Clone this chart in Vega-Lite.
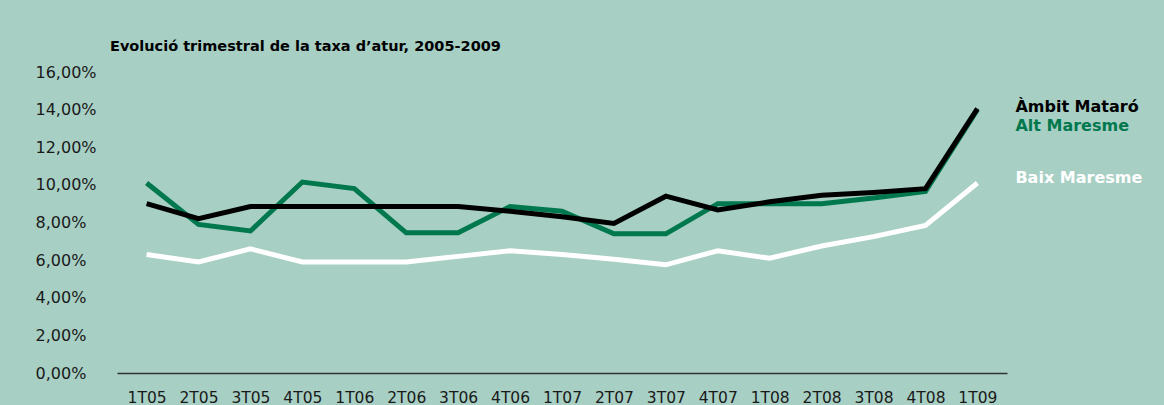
{
  "$schema": "https://vega.github.io/schema/vega-lite/v6.json",
  "autosize": {"type": "none"},
  "padding": {"left": 117, "top": 72, "right": 157, "bottom": 32},
  "width": 890,
  "height": 301,
  "background": "#A7CFC4",
  "config": {
    "view": {"stroke": null},
    "font": "DejaVu Sans"
  },
  "title": {
    "text": "Evolució trimestral de la taxa d’atur, 2005-2009",
    "anchor": "start",
    "frame": "group",
    "dx": -7,
    "offset": 10,
    "font": "DejaVu Sans",
    "fontSize": 14.5,
    "fontWeight": "bold",
    "color": "#000000"
  },
  "datasets": {
    "taxa": [
      {"t": "1T05", "serie": "Baix Maresme", "v": 6.3},
      {"t": "2T05", "serie": "Baix Maresme", "v": 5.9},
      {"t": "3T05", "serie": "Baix Maresme", "v": 6.6},
      {"t": "4T05", "serie": "Baix Maresme", "v": 5.9},
      {"t": "1T06", "serie": "Baix Maresme", "v": 5.9},
      {"t": "2T06", "serie": "Baix Maresme", "v": 5.9},
      {"t": "3T06", "serie": "Baix Maresme", "v": 6.2},
      {"t": "4T06", "serie": "Baix Maresme", "v": 6.5},
      {"t": "1T07", "serie": "Baix Maresme", "v": 6.3},
      {"t": "2T07", "serie": "Baix Maresme", "v": 6.05},
      {"t": "3T07", "serie": "Baix Maresme", "v": 5.75},
      {"t": "4T07", "serie": "Baix Maresme", "v": 6.5},
      {"t": "1T08", "serie": "Baix Maresme", "v": 6.1},
      {"t": "2T08", "serie": "Baix Maresme", "v": 6.75},
      {"t": "3T08", "serie": "Baix Maresme", "v": 7.25},
      {"t": "4T08", "serie": "Baix Maresme", "v": 7.85},
      {"t": "1T09", "serie": "Baix Maresme", "v": 10.1},
      {"t": "1T05", "serie": "Alt Maresme", "v": 10.1},
      {"t": "2T05", "serie": "Alt Maresme", "v": 7.9},
      {"t": "3T05", "serie": "Alt Maresme", "v": 7.55},
      {"t": "4T05", "serie": "Alt Maresme", "v": 10.15},
      {"t": "1T06", "serie": "Alt Maresme", "v": 9.8},
      {"t": "2T06", "serie": "Alt Maresme", "v": 7.45},
      {"t": "3T06", "serie": "Alt Maresme", "v": 7.45},
      {"t": "4T06", "serie": "Alt Maresme", "v": 8.85},
      {"t": "1T07", "serie": "Alt Maresme", "v": 8.6},
      {"t": "2T07", "serie": "Alt Maresme", "v": 7.4},
      {"t": "3T07", "serie": "Alt Maresme", "v": 7.4},
      {"t": "4T07", "serie": "Alt Maresme", "v": 9.0},
      {"t": "1T08", "serie": "Alt Maresme", "v": 9.0},
      {"t": "2T08", "serie": "Alt Maresme", "v": 9.0},
      {"t": "3T08", "serie": "Alt Maresme", "v": 9.3},
      {"t": "4T08", "serie": "Alt Maresme", "v": 9.65},
      {"t": "1T09", "serie": "Alt Maresme", "v": 14.0},
      {"t": "1T05", "serie": "Àmbit Mataró", "v": 9.0},
      {"t": "2T05", "serie": "Àmbit Mataró", "v": 8.2},
      {"t": "3T05", "serie": "Àmbit Mataró", "v": 8.85},
      {"t": "4T05", "serie": "Àmbit Mataró", "v": 8.85},
      {"t": "1T06", "serie": "Àmbit Mataró", "v": 8.85},
      {"t": "2T06", "serie": "Àmbit Mataró", "v": 8.85},
      {"t": "3T06", "serie": "Àmbit Mataró", "v": 8.85},
      {"t": "4T06", "serie": "Àmbit Mataró", "v": 8.6},
      {"t": "1T07", "serie": "Àmbit Mataró", "v": 8.3},
      {"t": "2T07", "serie": "Àmbit Mataró", "v": 7.95},
      {"t": "3T07", "serie": "Àmbit Mataró", "v": 9.4},
      {"t": "4T07", "serie": "Àmbit Mataró", "v": 8.67},
      {"t": "1T08", "serie": "Àmbit Mataró", "v": 9.1},
      {"t": "2T08", "serie": "Àmbit Mataró", "v": 9.45},
      {"t": "3T08", "serie": "Àmbit Mataró", "v": 9.6},
      {"t": "4T08", "serie": "Àmbit Mataró", "v": 9.8},
      {"t": "1T09", "serie": "Àmbit Mataró", "v": 14.05}
    ]
  },
  "data": {"name": "taxa"},
  "encoding": {
    "x": {
      "field": "t",
      "type": "ordinal",
      "sort": null,
      "scale": {"type": "point", "padding": 0.57},
      "axis": {
        "title": null,
        "labelAngle": 0,
        "ticks": false,
        "tickSize": 0,
        "labelPadding": 17,
        "labelFontSize": 15.5,
        "labelColor": "#1a1a1a",
        "labelFont": "DejaVu Sans",
        "domainColor": "#333333",
        "domainWidth": 1.3,
        "grid": false
      }
    },
    "y": {
      "field": "v",
      "type": "quantitative",
      "scale": {"domain": [0, 16], "nice": false, "zero": true},
      "axis": {
        "title": null,
        "values": [0, 2, 4, 6, 8, 10, 12, 14, 16],
        "labelExpr": "replace(format(datum.value, '.2f'), '.', ',') + '%'",
        "domain": false,
        "ticks": false,
        "tickSize": 0,
        "grid": false,
        "labelAlign": "left",
        "labelPadding": 82,
        "labelFontSize": 16,
        "labelColor": "#1a1a1a",
        "labelFont": "DejaVu Sans"
      }
    },
    "color": {
      "field": "serie",
      "type": "nominal",
      "scale": {
        "domain": ["Àmbit Mataró", "Alt Maresme", "Baix Maresme"],
        "range": ["#000000", "#00784E", "#FFFFFF"]
      },
      "legend": null
    }
  },
  "layer": [
    {
      "mark": {"type": "line", "strokeWidth": 5, "strokeJoin": "miter", "strokeCap": "butt"},
      "encoding": {"detail": {"field": "serie"}}
    },
    {
      "transform": [{"filter": "datum.t === '1T09' && datum.serie === 'Àmbit Mataró'"}],
      "mark": {"type": "text", "align": "left", "baseline": "middle", "dx": 38, "dy": -2, "fontSize": 16, "fontWeight": "bold", "font": "DejaVu Sans"},
      "encoding": {"text": {"field": "serie"}}
    },
    {
      "transform": [{"filter": "datum.t === '1T09' && datum.serie === 'Alt Maresme'"}],
      "mark": {"type": "text", "align": "left", "baseline": "middle", "dx": 38, "dy": 16, "fontSize": 16, "fontWeight": "bold", "font": "DejaVu Sans"},
      "encoding": {"text": {"field": "serie"}}
    },
    {
      "transform": [{"filter": "datum.t === '1T09' && datum.serie === 'Baix Maresme'"}],
      "mark": {"type": "text", "align": "left", "baseline": "middle", "dx": 38, "dy": -5, "fontSize": 16, "fontWeight": "bold", "font": "DejaVu Sans"},
      "encoding": {"text": {"field": "serie"}}
    }
  ]
}
